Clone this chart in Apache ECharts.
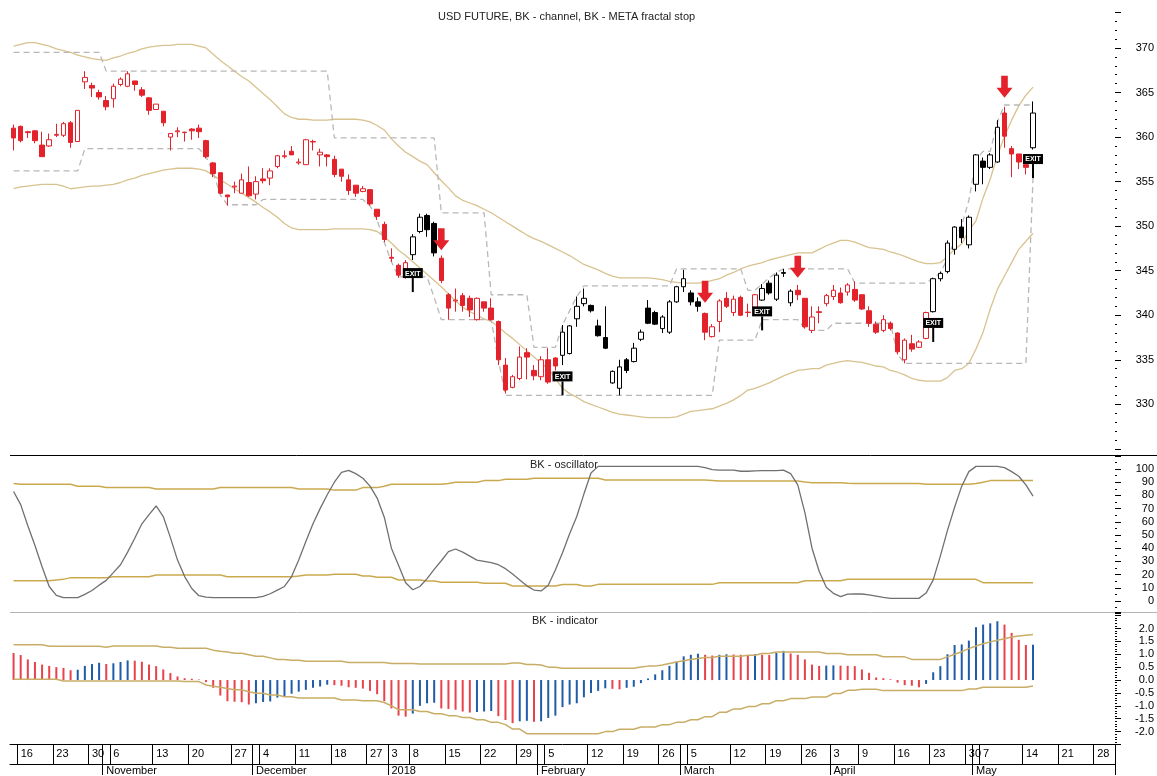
<!DOCTYPE html>
<html lang="en">
<head>
<meta charset="UTF-8">
<title>USD FUTURE</title>
<style>
  html, body { margin: 0; padding: 0; background: #fff; }
  #chart { width: 1157px; height: 776px; }
</style>
</head>
<body>
<div id="chart"></div>
<script src="https://cdn.jsdelivr.net/npm/echarts@6/dist/echarts.min.js"></script>
<script>
// ---- price bars (one per trading slot) ----
let opens = [
  361.0,361.2,360.6,360.7,359.1,359.0,360.2,360.2,361.6,359.5,
  366.2,365.8,365.0,364.1,364.3,365.9,365.7,366.3,365.3,364.4,
  363.1,362.9,360.0,360.6,360.5,360.9,361.0,359.6,357.1,356.0,
  353.5,354.4,353.7,354.9,353.6,355.3,355.4,356.7,357.8,358.4,
  357.1,356.9,359.5,358.0,358.0,357.5,356.4,355.2,354.6,353.9,
  354.1,351.9,350.2,346.5,345.6,344.3,346.8,349.4,351.2,350.3,
  346.4,342.3,341.6,342.2,341.9,339.5,341.5,340.8,339.3,334.4,
  331.9,332.9,335.8,333.8,333.1,335.0,335.2,335.5,335.7,339.6,
  341.3,341.1,338.8,337.5,332.4,331.8,335.0,334.8,337.3,340.8,
  340.3,338.5,338.1,341.5,343.2,342.5,341.5,340.2,337.6,339.3,
  341.9,340.3,342.0,340.3,340.8,341.7,343.6,341.8,344.7,341.4,
  342.8,341.9,338.3,340.3,341.3,342.1,342.5,342.6,342.9,342.3,
  340.5,339.0,338.3,339.1,338.0,335.0,336.8,336.4,337.4,340.4,
  344.1,344.9,347.4,349.9,347.9,354.7,357.3,356.6,357.2,362.7,
  358.7,358.1,356.9,358.8
];
let closes = [
  359.9,359.6,360.5,359.6,357.8,359.7,360.3,361.5,359.4,363.0,
  366.7,365.5,364.5,363.4,365.7,366.5,367.1,365.9,364.7,363.0,
  363.7,361.6,360.4,360.7,360.55,360.7,360.6,357.8,355.9,353.7,
  353.3,354.5,355.2,353.4,355.0,355.1,356.2,357.9,357.9,358.0,
  357.2,359.7,359.45,358.3,357.8,355.8,355.6,354.0,353.7,354.2,
  352.5,351.1,348.5,346.4,344.5,345.9,348.8,351.0,349.6,347.0,
  343.9,340.8,341.7,341.1,340.6,341.9,340.8,339.5,335.0,331.6,
  333.1,335.3,335.3,333.2,335.0,332.5,334.3,338.1,338.8,341.0,
  341.9,340.5,337.7,336.3,333.7,334.2,333.8,336.3,338.1,339.1,
  339.0,339.8,341.5,343.2,344.1,341.5,341.0,338.1,338.7,341.6,
  341.0,341.8,340.0,340.35,342.3,343.0,342.5,344.5,344.8,342.7,
  342.3,338.7,339.8,340.4,342.2,342.8,341.4,343.4,341.7,340.7,
  339.1,338.1,339.5,338.5,335.9,337.2,336.2,337.0,340.3,344.1,
  344.7,348.1,349.9,348.7,351.0,358.0,356.6,358.0,361.1,360.1,
  358.1,357.2,356.6,362.7
];
let lows = [
  358.5,359.4,359.9,359.3,357.8,358.9,360.0,360.0,358.8,359.5,
  365.4,364.5,364.2,363.0,363.3,365.7,365.6,365.2,364.5,362.5,
  363.1,361.2,358.5,360.0,359.5,359.7,359.9,357.6,355.5,353.6,
  352.3,353.7,353.7,353.3,353.0,354.8,354.6,356.5,357.6,358.0,
  356.9,356.9,358.5,356.7,356.7,355.5,355.0,353.5,353.3,353.8,
  352.3,350.7,348.2,346.0,344.2,344.1,346.2,349.2,348.8,346.6,
  343.6,339.5,340.4,340.4,339.8,339.4,340.4,339.4,334.4,331.2,
  331.8,332.7,332.8,332.7,332.7,332.3,333.8,334.4,335.6,338.7,
  341.0,340.3,337.6,336.2,332.3,331.0,333.5,334.7,337.1,339.0,
  338.9,338.0,337.9,341.4,342.6,341.1,340.4,337.2,337.5,338.1,
  340.8,339.9,339.9,339.8,340.6,341.6,342.3,341.6,344.3,341.0,
  341.7,338.5,338.0,339.1,341.0,341.7,341.3,342.2,341.5,340.6,
  338.7,337.9,338.1,338.3,335.6,334.6,335.9,336.3,337.3,340.3,
  343.8,344.7,346.8,348.1,347.5,353.9,354.7,356.4,357.1,358.8,
  355.5,356.4,355.8,358.6
];
let highs = [
  361.4,361.3,360.7,360.8,360.6,360.4,361.5,361.7,361.8,363.0,
  367.4,366.1,365.3,364.6,366.0,366.7,367.4,366.3,365.6,364.5,
  363.7,362.9,360.4,361.1,360.6,361.0,361.4,359.7,357.2,356.0,
  353.5,355.0,355.9,356.7,355.6,356.5,356.5,358.0,358.5,359.0,
  357.6,359.8,359.7,358.7,358.1,357.9,356.4,355.8,354.6,354.5,
  354.1,351.9,350.5,347.5,345.8,346.2,349.1,351.4,351.4,350.5,
  346.7,342.5,343.0,342.5,342.2,342.0,341.5,341.9,339.4,335.2,
  333.3,336.5,336.3,334.4,335.4,336.3,335.3,338.9,338.9,342.1,
  343.0,341.2,339.5,341.0,333.8,335.0,335.2,336.9,338.4,341.7,
  340.5,340.0,341.7,343.3,345.1,342.8,342.0,340.3,339.0,341.8,
  342.6,342.2,342.2,341.3,342.4,343.5,343.9,344.8,345.2,342.9,
  343.4,341.9,341.0,341.0,342.4,343.4,343.1,343.6,343.8,342.3,
  341.0,339.3,340.0,339.3,338.1,337.4,337.8,337.2,340.4,344.2,
  344.9,348.4,350.0,350.8,351.2,358.1,357.7,358.2,361.9,363.4,
  359.0,358.1,356.9,364.0
];
// bars drawn black (long phase), the rest red
let blackRanges = [[56, 59], [77, 96], [105, 109], [129, 138], [143, 143]];

// ---- channel ----
let channelUpper = [
  370.2,370.4,370.6,370.6,370.4,370.2,369.9,369.7,369.5,369.2,
  369.0,368.8,368.7,368.6,368.9,369.1,369.4,369.6,369.9,370.1,
  370.2,370.3,370.3,370.4,370.4,370.4,370.2,370.0,369.3,368.6,
  368.0,367.4,366.8,366.3,365.6,364.9,364.2,363.4,362.6,362.2,
  362.0,362.0,361.9,361.9,361.9,362.0,362.0,362.0,362.0,361.9,
  361.7,361.3,360.8,359.8,359.0,358.3,357.8,357.3,356.9,356.0,
  355.1,354.3,353.4,352.9,352.6,352.3,351.9,351.5,351.0,350.5,
  350.0,349.5,349.0,348.6,348.3,347.9,347.5,347.1,346.7,346.2,
  345.7,345.4,345.1,344.7,344.4,344.2,344.2,344.2,344.2,344.2,
  344.1,344.0,343.8,343.7,343.6,343.6,343.6,343.7,343.9,344.1,
  344.5,344.8,345.2,345.5,345.7,345.9,346.2,346.4,346.6,346.8,
  347.0,347.0,347.0,347.4,347.8,348.1,348.4,348.4,348.2,347.9,
  347.6,347.5,347.4,347.1,346.9,346.6,346.3,346.0,345.8,345.8,
  345.9,346.6,347.4,348.0,349.5,350.6,353.2,355.3,357.9,360.1,
  361.9,363.5,364.7,365.6
];
let channelLower = [
  354.2,354.4,354.5,354.6,354.7,354.7,354.7,354.5,354.2,354.3,
  354.4,354.5,354.5,354.6,354.7,354.9,355.2,355.4,355.7,355.9,
  356.1,356.3,356.4,356.5,356.5,356.5,356.4,356.2,355.7,355.2,
  354.7,354.2,353.7,353.2,352.7,352.1,351.6,351.0,350.3,349.8,
  349.6,349.6,349.6,349.6,349.6,349.7,349.7,349.7,349.7,349.7,
  349.6,349.4,348.8,348.1,347.3,346.7,346.0,345.3,344.6,343.9,
  343.2,342.4,341.6,340.9,340.4,340.0,339.6,339.3,338.7,338.0,
  337.4,336.7,336.0,335.3,334.6,334.0,332.9,331.8,331.2,330.8,
  330.3,330.0,329.7,329.4,329.1,328.9,328.8,328.7,328.6,328.5,
  328.5,328.5,328.5,328.6,328.9,329.2,329.3,329.4,329.5,329.8,
  330.1,330.5,331.0,331.6,331.8,332.1,332.4,332.8,333.2,333.5,
  333.8,333.9,334.0,334.0,334.4,334.6,334.8,334.9,334.8,334.7,
  334.5,334.3,334.2,333.8,333.6,333.3,332.9,332.7,332.6,332.6,
  332.6,333.0,333.8,334.0,334.6,336.2,338.1,340.7,342.9,344.4,
  345.9,347.4,348.3,349.2
];

// ---- fractal stop ----
let stopHigh = [
  369.5,369.5,369.5,369.5,369.5,369.5,369.5,369.5,369.5,369.5,
  369.5,369.5,369.5,367.4,367.4,367.4,367.4,367.4,367.4,367.4,
  367.4,367.4,367.4,367.4,367.4,367.4,367.4,367.4,367.4,367.4,
  367.4,367.4,367.4,367.4,367.4,367.4,367.4,367.4,367.4,367.4,
  367.4,367.4,367.4,367.4,367.4,359.9,359.9,359.9,359.9,359.9,
  359.9,359.9,359.9,359.9,359.9,359.9,359.9,359.9,359.9,359.9,
  351.5,351.5,351.5,351.5,351.5,351.5,351.5,342.3,342.3,342.3,
  342.3,342.3,342.3,336.4,336.4,336.4,336.4,338.9,340.5,342.1,
  343.3,343.3,343.3,343.3,343.3,343.3,343.3,343.3,343.3,343.3,
  343.3,343.3,343.3,345.2,345.2,345.2,345.2,345.2,345.2,345.2,
  345.2,345.2,345.2,342.8,342.8,343.5,344.2,344.8,345.2,345.2,
  345.2,345.2,345.2,345.2,345.2,345.2,345.2,345.2,343.6,343.6,
  343.6,343.6,343.6,343.6,343.6,343.6,343.6,343.6,343.6,344.2,
  344.7,346.4,348.4,350.1,352.9,357.4,358.4,358.4,361.7,363.6,
  363.6,363.6,363.6,363.6
];
let stopLow = [
  356.2,356.2,356.2,356.2,356.2,356.2,356.2,356.2,356.2,356.2,
  358.7,358.7,358.7,358.7,358.7,358.7,358.7,358.7,358.7,358.7,
  358.7,358.7,358.7,358.7,358.7,358.7,358.7,357.8,356.0,353.5,
  352.4,352.4,352.4,352.4,352.4,353.0,353.0,353.0,353.0,353.0,
  353.0,353.0,353.0,353.0,353.0,353.0,353.0,353.0,353.0,353.0,
  352.3,350.7,348.2,346.0,344.3,344.3,344.3,344.3,344.3,342.0,
  339.5,339.5,339.5,339.5,339.5,339.5,339.5,339.5,335.0,331.0,
  331.0,331.0,331.0,331.0,331.0,331.0,331.0,331.0,331.0,331.0,
  331.0,331.0,331.0,331.0,331.0,331.0,331.0,331.0,331.0,331.0,
  331.0,331.0,331.0,331.0,331.0,331.0,331.0,331.0,331.0,337.2,
  337.2,337.2,337.2,337.2,337.2,339.5,339.5,339.5,339.5,339.5,
  339.5,338.5,338.3,338.3,338.3,339.1,339.1,339.1,339.1,339.1,
  339.1,339.1,339.1,339.1,335.6,334.6,334.6,334.6,334.6,334.6,
  334.6,334.6,334.6,334.6,334.6,334.6,334.6,334.6,334.6,334.6,
  334.6,334.6,334.6,355.4
];

// ---- signals ----
let arrowIdx = [60, 97, 110, 139];
let arrowTip = [347.3, 341.4, 344.2, 364.4];
let exitIdx = [56, 77, 105, 129, 143];
let exitVal = [342.6, 331.0, 338.3, 337.0, 355.4];

// ---- BK - oscillator ----
let osc = [
  83,73,57,42,26,11,4.3,2.5,2.5,2.5,
  5,8,12,15.6,21.5,27.5,37,47.5,58.5,65.5,
  72,64,48,31,18.5,9.5,4,3,2.5,2.5,
  2.5,2.5,2.5,2.5,2.5,3.5,5.5,8.3,11,18.5,
  31,45,58.5,70,80.5,90,97.5,99,96.5,93,
  87,78,63.5,40,27,13.8,8.5,11,17,24,
  30.5,37.4,39.4,37,34,31,30,29,27.5,24.5,
  20.5,16,11.5,8.3,7.6,12,23.5,36.5,51,64,
  81,97,102,102,102,102,102,102,102,102,
  102,102,102,102,102,102,102,101,99.5,99.2,
  99.2,99.2,98.3,98.3,98.6,98.7,98.7,98.7,99.2,96.5,
  88,67,40,22.5,10.5,5.8,3.3,5.2,5.3,5.3,
  4.7,3.7,2.7,2,2,2,2,2,6,16,
  34,53.5,71,87,98,102,102,102,102,101,
  98,94.5,88,79.5
];
let oscUpper = [
  89,88.4,88.4,88.4,88.4,88.4,88.4,88.4,88.4,87,
  87,87,87,86,86,86,86,86,86,86,
  84.8,84.8,84.8,84.8,84.8,84.8,84.8,84.8,84.8,86,
  86,86,86,86,86,86,86,86,86,86,
  84.8,84.8,84.8,84.8,84.8,84,84,84,84,85.9,
  85.9,85.9,87,88.4,88.4,88.4,88.4,88.4,88.4,88.4,
  88.4,89,90,90,90,90,91.2,91.2,91.2,92.2,
  92.2,92.2,92.2,93,93,93,93,93,93,93,
  93,93,93,91.7,91.7,91.7,91.7,91.7,91.7,91.7,
  91.7,91.7,91.7,91.7,91.7,91.7,91.7,91.7,91.3,90.9,
  90.9,90.9,90.9,90.9,90.9,90.9,90.9,90.9,90.9,90.9,
  90.9,90.2,89.6,89.6,89.6,89.6,89.6,89.3,89.1,89.1,
  89.1,89.1,89.1,89.1,89.1,89.1,89.1,89.1,88.4,88.4,
  88.4,88.4,88.4,88.4,88.4,89.1,90,91.2,91.2,91.2,
  91.2,91.2,91.2,91.2
];
let oscLower = [
  15.4,15.4,15.4,15.4,15.4,15.4,16,16.4,17.7,17.7,
  17.7,17.7,17.7,17.7,18.4,18.4,18.4,18.4,18.4,18.4,
  19.7,19.7,19.7,19.7,19.7,19.7,19.7,19.7,19.7,19.7,
  18.4,18.4,18.4,18.4,18.4,18.4,18.4,18.4,18.4,18.4,
  19,19.7,19.7,19.7,19.7,20.2,20.2,20.2,20.2,18.9,
  18.9,18,18,18,15.9,15.9,15.9,15.9,15.2,15.2,
  14.2,14.2,14.2,14.2,14.2,14.2,13.4,13.4,13.4,13.4,
  11.4,11.4,11.4,11.4,11.4,11.4,11.4,12.5,12.5,12.5,
  11.4,11.4,12.6,12.6,12.6,12.6,12.6,12.6,12.6,12.6,
  12.6,12.6,12.6,12.6,12.6,12.6,12.6,12.6,12.6,13.9,
  13.9,13.9,13.9,13.9,13.9,13.9,13.9,13.9,13.9,13.9,
  13.9,15.4,15.4,15.4,15.4,15.4,15.4,16.4,16.4,16.4,
  16.4,16.4,16.4,16.4,16.4,16.4,16.4,16.4,16.4,16.4,
  16.4,16.4,16.4,16.4,16.4,16.4,13.9,13.9,13.9,13.9,
  13.9,13.9,13.9,13.9
];

// ---- BK - indicator ----
let ind = [
  1.05,0.97,0.80,0.70,0.60,0.55,0.50,0.47,0.38,0.40,
  0.55,0.62,0.67,0.62,0.65,0.70,0.76,0.75,0.71,0.60,
  0.54,0.41,0.27,0.14,0.07,0.05,0.02,-0.08,-0.30,-0.60,
  -0.82,-0.84,-0.86,-0.95,-0.90,-0.85,-0.83,-0.68,-0.65,-0.53,
  -0.45,-0.38,-0.30,-0.25,-0.18,-0.20,-0.22,-0.28,-0.30,-0.33,
  -0.42,-0.55,-0.82,-1.10,-1.38,-1.42,-1.30,-1.00,-0.90,-0.88,
  -1.10,-1.12,-1.15,-1.22,-1.26,-1.24,-1.22,-1.20,-1.40,-1.55,
  -1.67,-1.60,-1.58,-1.62,-1.60,-1.47,-1.38,-1.05,-0.95,-0.90,
  -0.67,-0.50,-0.42,-0.32,-0.34,-0.36,-0.30,-0.26,-0.12,0.06,
  0.22,0.38,0.55,0.72,0.92,0.98,1.02,0.98,0.95,0.98,
  1.00,0.99,0.98,0.97,1.00,0.98,0.97,1.05,1.13,1.03,
  0.98,0.80,0.60,0.55,0.56,0.57,0.56,0.55,0.54,0.41,
  0.28,0.10,0.07,0.03,-0.10,-0.20,-0.22,-0.28,-0.15,0.30,
  0.54,1.00,1.36,1.38,1.53,2.05,2.15,2.20,2.28,2.15,
  1.83,1.56,1.36,1.37
];
let indUpper = [
  1.37,1.37,1.37,1.37,1.37,1.31,1.31,1.31,1.31,1.31,
  1.31,1.31,1.31,1.27,1.32,1.32,1.32,1.32,1.32,1.32,
  1.32,1.27,1.27,1.23,1.23,1.23,1.23,1.23,1.16,1.12,
  1.09,1.04,1.04,0.98,0.92,0.92,0.86,0.80,0.80,0.77,
  0.77,0.73,0.73,0.73,0.73,0.73,0.73,0.68,0.68,0.68,
  0.68,0.68,0.68,0.64,0.64,0.64,0.64,0.62,0.62,0.62,
  0.62,0.62,0.62,0.62,0.62,0.62,0.62,0.62,0.62,0.62,
  0.66,0.66,0.60,0.60,0.58,0.50,0.50,0.46,0.46,0.46,
  0.46,0.46,0.46,0.46,0.46,0.46,0.46,0.46,0.51,0.54,
  0.54,0.58,0.64,0.70,0.75,0.80,0.84,0.87,0.87,0.92,
  0.92,0.92,0.92,0.96,0.96,1.03,1.03,1.09,1.09,1.09,
  1.09,1.09,1.09,1.09,1.03,1.03,1.03,0.98,0.98,0.98,
  0.98,0.98,0.90,0.90,0.90,0.90,0.80,0.80,0.80,0.80,
  0.80,0.90,1.00,1.10,1.22,1.32,1.41,1.48,1.54,1.60,
  1.67,1.71,1.74,1.77
];
let indLower = [
  0.03,0.03,0.03,0.03,0.03,0.03,0.03,-0.04,-0.04,-0.04,
  -0.04,-0.04,-0.04,-0.04,-0.04,-0.04,-0.04,-0.04,-0.04,-0.04,
  -0.04,-0.04,-0.04,-0.04,-0.06,-0.06,-0.06,-0.19,-0.24,-0.28,
  -0.33,-0.38,-0.38,-0.45,-0.51,-0.51,-0.58,-0.58,-0.65,-0.65,
  -0.70,-0.70,-0.70,-0.70,-0.70,-0.70,-0.77,-0.77,-0.77,-0.80,
  -0.80,-0.80,-0.87,-1.00,-1.15,-1.15,-1.15,-1.22,-1.22,-1.31,
  -1.31,-1.38,-1.38,-1.45,-1.45,-1.54,-1.54,-1.64,-1.64,-1.73,
  -1.90,-1.90,-2.08,-2.08,-2.08,-2.08,-2.08,-2.08,-2.08,-2.08,
  -2.08,-2.08,-2.08,-2.00,-2.00,-1.91,-1.91,-1.91,-1.82,-1.82,
  -1.82,-1.73,-1.73,-1.64,-1.64,-1.54,-1.54,-1.42,-1.42,-1.25,
  -1.25,-1.12,-1.12,-1.03,-1.03,-0.92,-0.92,-0.80,-0.80,-0.72,
  -0.72,-0.72,-0.66,-0.66,-0.66,-0.52,-0.52,-0.40,-0.40,-0.36,
  -0.36,-0.36,-0.41,-0.41,-0.41,-0.41,-0.41,-0.41,-0.41,-0.41,
  -0.41,-0.41,-0.41,-0.41,-0.35,-0.35,-0.28,-0.28,-0.28,-0.28,
  -0.28,-0.28,-0.28,-0.23
];

// ---- time axis: slot index -> label ----
let slotCount = 155;
let dayTicks = [
  [1,'16'],[6,'23'],[11,'30'],[14,'6'],[20,'13'],[25,'20'],[31,'27'],
  [35,'4'],[40,'11'],[45,'18'],[50,'27'],[53,'3'],[56,'8'],[61,'15'],
  [66,'22'],[71,'29'],[75,'5'],[81,'12'],[86,'19'],[91,'26'],[95,'5'],
  [101,'12'],[106,'19'],[111,'26'],[115,'3'],[119,'9'],[124,'16'],
  [129,'23'],[134,'30'],[136,'7'],[142,'14'],[147,'21'],[152,'28']
];
let monthTicks = [
  [13,'November'],[34,'December'],[53,'2018'],[74,'February'],
  [94,'March'],[115,'April'],[135,'May']
];

let slots = [];
for (let i = 0; i < slotCount; i++) slots.push(String(i));
let dayMap = {}, monthMap = {}, allTicks = {};
dayTicks.forEach(d => { dayMap[d[0]] = d[1]; allTicks[d[0]] = 1; });
monthTicks.forEach(d => { monthMap[d[0]] = d[1]; allTicks[d[0]] = 1; });

function isBlack(i) {
  return blackRanges.some(r => i >= r[0] && i <= r[1]);
}
let redBars = [], blackBars = [];
for (let i = 0; i < opens.length; i++) {
  let k = [opens[i], closes[i], lows[i], highs[i]];
  if (isBlack(i)) { blackBars.push(k); redBars.push('-'); }
  else { redBars.push(k); blackBars.push('-'); }
}
let indBars = ind.map((v, i) => ({
  value: v,
  itemStyle: { color: (i > 0 && v > ind[i - 1]) ? '#1f5ba8' : '#e8424a' }
}));

const FONT = 'Liberation Sans, Arial, sans-serif';
const RED = '#e3222c';

let chart = echarts.init(document.getElementById('chart'));

function hiddenX(grid) {
  return { type: 'category', gridIndex: grid, data: slots, show: false };
}
function rightY(grid, min, max, split, minor, fmt) {
  return {
    type: 'value', gridIndex: grid, position: 'right', min: min, max: max,
    splitNumber: split, scale: true,
    axisLine: { show: false },
    axisTick: { show: true, length: 6, lineStyle: { color: '#000' } },
    minorTick: { show: true, splitNumber: minor, length: 2, lineStyle: { color: '#000' } },
    splitLine: { show: false },
    axisLabel: {
      align: 'right', margin: 39, fontSize: 11, color: '#000', fontFamily: FONT,
      showMinLabel: false, formatter: fmt
    }
  };
}

let option = {
  animation: false,
  backgroundColor: '#fff',
  title: [
    { text: 'USD FUTURE, BK - channel, BK - META fractal stop', left: 433, top: 6,
      textStyle: { fontSize: 11, fontWeight: 'normal', color: '#222', fontFamily: FONT } },
    { text: 'BK - oscillator', left: 525, top: 454,
      textStyle: { fontSize: 11, fontWeight: 'normal', color: '#222', fontFamily: FONT } },
    { text: 'BK - indicator', left: 527, top: 610,
      textStyle: { fontSize: 11, fontWeight: 'normal', color: '#222', fontFamily: FONT } }
  ],
  grid: [
    { left: 10, width: 1106, top: 12, height: 443 },
    { left: 10, width: 1106, top: 456, height: 156 },
    { left: 10, width: 1106, top: 613, height: 132 }
  ],
  xAxis: [
    hiddenX(0),
    hiddenX(1),
    {
      type: 'category', gridIndex: 2, data: slots, position: 'bottom',
      axisLine: { show: true, onZero: false, lineStyle: { color: '#000', width: 1 } },
      axisTick: { show: true, length: 20, interval: i => allTicks[i] === 1, lineStyle: { color: '#000' } },
      axisLabel: {
        interval: i => dayMap[i] !== undefined,
        formatter: (v, i) => dayMap[i] || '',
        align: 'left', margin: 4, fontSize: 11, color: '#000', fontFamily: FONT
      }
    },
    {
      type: 'category', gridIndex: 2, data: slots, position: 'bottom', offset: 20,
      axisLine: { show: true, onZero: false, lineStyle: { color: '#000', width: 1 } },
      axisTick: { show: true, length: 11, interval: i => monthMap[i] !== undefined, lineStyle: { color: '#000' } },
      axisLabel: {
        interval: i => monthMap[i] !== undefined,
        formatter: (v, i) => monthMap[i] || '',
        align: 'left', margin: 1, fontSize: 11, color: '#000', fontFamily: FONT
      }
    }
  ],
  yAxis: [
    rightY(0, 324.31, 374.04, 9, 5, v => (v > 372 || v < 327 ? '' : String(v))),
    rightY(1, -8.33, 109.85, 12, 2, v => (v > 101 || v < 0 ? '' : String(v))),
    rightY(2, -2.48, 2.6, 10, 5, v => (v > 2.2 ? '' : v.toFixed(1)))
  ],
  graphic: [
    { type: 'line', shape: { x1: 10, y1: 455.5, x2: 1157, y2: 455.5 }, style: { stroke: '#000', lineWidth: 1 } },
    { type: 'line', shape: { x1: 10, y1: 612.5, x2: 1157, y2: 612.5 }, style: { stroke: '#b5b5b5', lineWidth: 1 } }
  ],
  series: [
    { type: 'line', name: 'channel upper', data: channelUpper, xAxisIndex: 0, yAxisIndex: 0,
      symbol: 'none', lineStyle: { color: '#d8c28f', width: 1.3 }, z: 1 },
    { type: 'line', name: 'channel lower', data: channelLower, xAxisIndex: 0, yAxisIndex: 0,
      symbol: 'none', lineStyle: { color: '#d8c28f', width: 1.3 }, z: 1 },
    { type: 'line', name: 'stop high', data: stopHigh, xAxisIndex: 0, yAxisIndex: 0,
      symbol: 'none', lineStyle: { color: '#b8b8b8', width: 1.3, type: [6, 4] }, z: 1 },
    { type: 'line', name: 'stop low', data: stopLow, xAxisIndex: 0, yAxisIndex: 0,
      symbol: 'none', lineStyle: { color: '#b8b8b8', width: 1.3, type: [6, 4] }, z: 1 },
    { type: 'candlestick', name: 'red', data: redBars, xAxisIndex: 0, yAxisIndex: 0, barWidth: 5,
      itemStyle: { color: '#fff', color0: RED, borderColor: RED, borderColor0: RED, borderWidth: 1 }, z: 3 },
    { type: 'candlestick', name: 'black', data: blackBars, xAxisIndex: 0, yAxisIndex: 0, barWidth: 5,
      itemStyle: { color: '#fff', color0: '#000', borderColor: '#000', borderColor0: '#000', borderWidth: 1 }, z: 3 },
    {
      type: 'custom', name: 'arrows', xAxisIndex: 0, yAxisIndex: 0, z: 5,
      data: arrowIdx.map((d, k) => [d, arrowTip[k]]),
      renderItem: function (params, api) {
        let p = api.coord([api.value(0), api.value(1)]);
        let x = p[0], y = p[1];
        return {
          type: 'polygon',
          shape: { points: [[x - 3.3, y - 22], [x + 3.3, y - 22], [x + 3.3, y - 10], [x + 8, y - 10],
                            [x, y], [x - 8, y - 10], [x - 3.3, y - 10]] },
          style: { fill: RED }
        };
      }
    },
    {
      type: 'custom', name: 'exit', xAxisIndex: 0, yAxisIndex: 0, z: 6,
      data: exitIdx.map((d, k) => [d, exitVal[k]]),
      renderItem: function (params, api) {
        let p = api.coord([api.value(0), api.value(1)]);
        let x = p[0], y = p[1];
        return {
          type: 'group',
          children: [
            { type: 'rect', shape: { x: x - 1, y: y - 14, width: 2, height: 14 }, style: { fill: '#000' } },
            { type: 'rect', shape: { x: x - 10, y: y - 24, width: 20, height: 10 }, style: { fill: '#000' } },
            { type: 'text', style: { text: 'EXIT', x: x, y: y - 18.5, fill: '#fff',
                font: 'bold 7px ' + FONT, align: 'center', verticalAlign: 'middle' } }
          ]
        };
      }
    },
    { type: 'line', name: 'osc upper', data: oscUpper, xAxisIndex: 1, yAxisIndex: 1,
      symbol: 'none', lineStyle: { color: '#caa94e', width: 1.5 } },
    { type: 'line', name: 'osc lower', data: oscLower, xAxisIndex: 1, yAxisIndex: 1,
      symbol: 'none', lineStyle: { color: '#caa94e', width: 1.5 } },
    { type: 'line', name: 'oscillator', data: osc, xAxisIndex: 1, yAxisIndex: 1,
      symbol: 'none', lineStyle: { color: '#707070', width: 1.3 } },
    { type: 'line', name: 'ind upper', data: indUpper, xAxisIndex: 2, yAxisIndex: 2,
      symbol: 'none', lineStyle: { color: '#c9ad66', width: 1.5 }, z: 3 },
    { type: 'line', name: 'ind lower', data: indLower, xAxisIndex: 2, yAxisIndex: 2,
      symbol: 'none', lineStyle: { color: '#c9ad66', width: 1.5 }, z: 3 },
    { type: 'bar', name: 'indicator', data: indBars, xAxisIndex: 2, yAxisIndex: 2, barWidth: 2, z: 2 }
  ]
};
chart.setOption(option);
</script>
</body>
</html>
